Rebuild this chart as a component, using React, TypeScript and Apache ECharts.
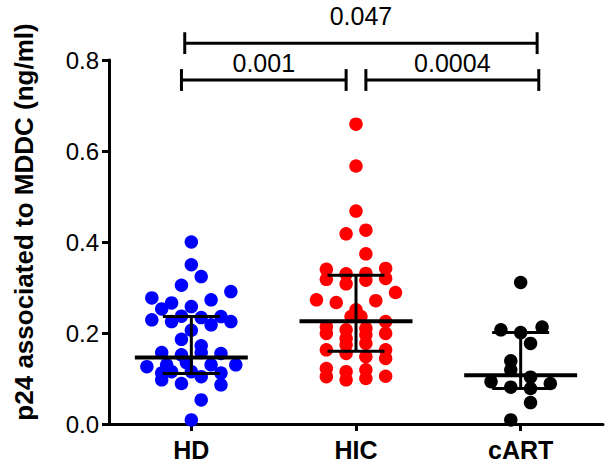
import React, { useEffect, useRef } from "react";
import * as echarts from "echarts";

const categories = ["HD", "HIC", "cART"];
const yTicks = [0, 0.2, 0.4, 0.6, 0.8];

const hdValues = [0.40, 0.35, 0.324, 0.305, 0.291, 0.277, 0.273, 0.266, 0.253, 0.258, 0.229, 0.225, 0.237, 0.234, 0.218, 0.236, 0.225, 0.206, 0.186, 0.172, 0.157, 0.152, 0.157, 0.155, 0.126, 0.130, 0.130, 0.130, 0.135, 0.097, 0.089, 0.104, 0.086, 0.053, 0.009, 0.115, 0.115, 0.112, 0.112];
const hdJitter = [0, 0, 0.06, -0.06, 0.24, -0.24, 0.12, -0.12, -0.18, 0, -0.24, -0.12, -0.06, 0.06, 0.12, 0.18, 0.24, 0, -0.06, 0.06, -0.18, -0.06, 0.06, 0.18, -0.27, -0.15, 0.12, 0.27, -0.03, -0.18, -0.06, 0.06, 0.18, 0.06, 0, -0.12, 0, -0.18, 0.18];

const hicValues = [0.659, 0.567, 0.468, 0.418, 0.426, 0.374, 0.340, 0.318, 0.330, 0.308, 0.331, 0.316, 0.342, 0.320, 0.289, 0.273, 0.267, 0.271, 0.251, 0.236, 0.236, 0.225, 0.214, 0.199, 0.207, 0.188, 0.210, 0.196, 0.199, 0.174, 0.177, 0.163, 0.155, 0.148, 0.163, 0.144, 0.122, 0.104, 0.115, 0.097, 0.119, 0.100, 0.105];
const hicJitter = [0, 0, 0, -0.06, 0.06, 0.06, -0.18, -0.18, -0.06, -0.06, 0.06, 0.06, 0.18, 0.18, 0.24, -0.24, -0.12, 0.12, 0, -0.03, 0.03, 0.18, -0.18, -0.18, -0.06, -0.06, 0.06, 0.06, 0.18, -0.06, 0.06, -0.18, -0.06, 0.06, 0.18, 0.18, -0.18, -0.18, -0.06, -0.06, 0.06, 0.06, 0.18];

const cartValues = [0.311, 0.207, 0.201, 0.213, 0.177, 0.139, 0.119, 0.093, 0.103, 0.081, 0.078, 0.089, 0.047, 0.009];
const cartJitter = [0, -0.12, 0, 0.13, 0.06, -0.06, -0.06, -0.18, 0.06, -0.06, 0.06, 0.18, 0.06, -0.06];

const medians = [0.146, 0.226, 0.107];
const q1s = [0.111, 0.160, 0.078];
const q3s = [0.236, 0.327, 0.201];

const bracketLabels = ["0.047", "0.001", "0.0004"];
const bracketFrom = [-0.04, -0.06, 1.06];
const bracketTo = [2.1, 0.94, 2.11];
const bracketY = [0.837, 0.756, 0.756];
const bracketLabelY = [0.897, 0.794, 0.794];

const groupColors = ["#0000FF", "#FF0000", "#000000"];

const FONT = "'Liberation Sans', Arial, sans-serif";

export default function App() {
  const ref = useRef<HTMLDivElement>(null);
  useEffect(() => {
    if (!ref.current) return;
    const chart = echarts.init(ref.current, undefined, { renderer: "svg" });
    const groups = [
      { values: hdValues, jitter: hdJitter },
      { values: hicValues, jitter: hicJitter },
      { values: cartValues, jitter: cartJitter },
    ];
    const scatterSeries = groups.map((g, i) => ({
      type: "scatter",
      xAxisIndex: 1,
      yAxisIndex: 0,
      symbol: "circle",
      symbolSize: 13.5,
      silent: true,
      itemStyle: { color: groupColors[i], opacity: 1 },
      data: g.values.map((v, k) => [i + g.jitter[k], v]),
      z: 2,
    }));
    const statData = categories.map((_, i) => [i, medians[i], q1s[i], q3s[i]]);
    const statSeries = {
      type: "custom",
      xAxisIndex: 1,
      yAxisIndex: 0,
      silent: true,
      z: 5,
      data: statData,
      renderItem: (params: any, api: any) => {
        const x = api.value(0);
        const med = api.value(1);
        const lo = api.value(2);
        const hi = api.value(3);
        const mL = api.coord([x - 0.343, med]);
        const mR = api.coord([x + 0.343, med]);
        const cLoL = api.coord([x - 0.173, lo]);
        const cLoR = api.coord([x + 0.173, lo]);
        const cHiL = api.coord([x - 0.173, hi]);
        const cHiR = api.coord([x + 0.173, hi]);
        const vLo = api.coord([x, lo]);
        const vHi = api.coord([x, hi]);
        const st = { stroke: "#000", lineWidth: 3 };
        return {
          type: "group",
          children: [
            { type: "line", shape: { x1: vLo[0], y1: vLo[1], x2: vHi[0], y2: vHi[1] }, style: st },
            { type: "line", shape: { x1: cLoL[0], y1: cLoL[1], x2: cLoR[0], y2: cLoR[1] }, style: st },
            { type: "line", shape: { x1: cHiL[0], y1: cHiL[1], x2: cHiR[0], y2: cHiR[1] }, style: st },
            { type: "line", shape: { x1: mL[0], y1: mL[1], x2: mR[0], y2: mR[1] }, style: { stroke: "#000", lineWidth: 4 } },
          ],
        };
      },
    };
    const bracketData = bracketLabels.map((_, i) => [bracketFrom[i], bracketTo[i], bracketY[i], bracketLabelY[i]]);
    const bracketSeries = {
      type: "custom",
      xAxisIndex: 1,
      yAxisIndex: 0,
      silent: true,
      clip: false,
      z: 6,
      data: bracketData,
      renderItem: (params: any, api: any) => {
        const x1 = api.value(0);
        const x2 = api.value(1);
        const y = api.value(2);
        const ly = api.value(3);
        const capH = 0.024;
        const a = api.coord([x1, y]);
        const b = api.coord([x2, y]);
        const aT = api.coord([x1, y + capH]);
        const aB = api.coord([x1, y - capH]);
        const bT = api.coord([x2, y + capH]);
        const bB = api.coord([x2, y - capH]);
        const t = api.coord([(x1 + x2) / 2, ly]);
        const st = { stroke: "#000", lineWidth: 3 };
        return {
          type: "group",
          children: [
            { type: "line", shape: { x1: a[0], y1: a[1], x2: b[0], y2: b[1] }, style: st },
            { type: "line", shape: { x1: aT[0], y1: aT[1], x2: aB[0], y2: aB[1] }, style: st },
            { type: "line", shape: { x1: bT[0], y1: bT[1], x2: bB[0], y2: bB[1] }, style: st },
            {
              type: "text",
              x: t[0],
              y: t[1],
              style: {
                text: bracketLabels[params.dataIndex],
                fontSize: 25,
                fontFamily: FONT,
                fill: "#000",
                align: "center",
                verticalAlign: "middle",
              },
            },
          ],
        };
      },
    };
    chart.setOption({
      animation: false,
      grid: { left: 109, right: 8, top: 60, bottom: 45, containLabel: false },
      xAxis: [
        {
          type: "category",
          data: categories,
          boundaryGap: true,
          axisLine: { show: true, onZero: false, lineStyle: { color: "#000", width: 3 } },
          axisTick: { show: true, alignWithLabel: true, length: 7, lineStyle: { color: "#000", width: 3 } },
          axisLabel: { color: "#000", fontSize: 25, fontWeight: "bold", fontFamily: FONT, margin: 13 },
          splitLine: { show: false },
        },
        { type: "value", show: false, min: -0.5, max: 2.5 },
      ],
      yAxis: {
        type: "value",
        min: yTicks[0],
        max: yTicks[yTicks.length - 1],
        interval: 0.2,
        axisLine: { show: true, onZero: false, lineStyle: { color: "#000", width: 3 } },
        axisTick: { show: true, length: 7, lineStyle: { color: "#000", width: 3 } },
        axisLabel: {
          color: "#000",
          fontSize: 24,
          fontFamily: FONT,
          margin: 10,
          formatter: (v: number) => v.toFixed(1),
        },
        splitLine: { show: false },
      },
      graphic: [
        {
          type: "text",
          x: 23.5,
          y: 222,
          rotation: Math.PI / 2,
          style: {
            text: "p24 associated to MDDC (ng/ml)",
            fontSize: 26,
            fontWeight: "bold",
            fontFamily: FONT,
            fill: "#000",
            align: "center",
            verticalAlign: "middle",
          },
        },
      ],
      series: [...scatterSeries, statSeries, bracketSeries],
    });
    return () => chart.dispose();
  }, []);
  return (
    <div
      ref={ref}
      style={{ position: "fixed", left: 0, top: 0, width: 611, height: 469, background: "#fff" }}
    />
  );
}
